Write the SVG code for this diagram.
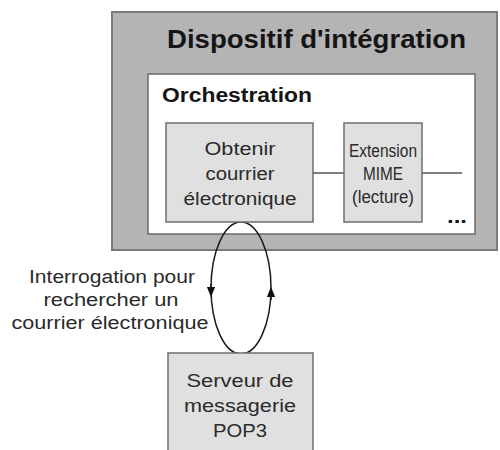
<svg xmlns="http://www.w3.org/2000/svg" width="500" height="450" viewBox="0 0 500 450">
<defs>
<style>
text{font-family:"Liberation Sans",Arial,sans-serif;fill:#2a2a2a}
.b{font-weight:bold;fill:#151515}
.box{fill:#e0e0e0;stroke:#6e6e6e;stroke-width:1.5}
.t{font-size:18px;text-anchor:middle}
.link{stroke:#555;stroke-width:1.5;fill:none}
</style>
<marker id="ah" viewBox="0 0 10 10" refX="5" refY="5" markerWidth="7" markerHeight="7" orient="auto">
<path d="M0,1 L10,5 L0,9 Z" fill="#111"/>
</marker>
</defs>
<rect width="500" height="450" fill="#fff"/>
<g id="dispositif">
<rect x="112" y="12" width="385" height="238" fill="#b4b4b4" stroke="#7a7a7a" stroke-width="2"/>
<text class="b" x="167" y="48" font-size="25" textLength="299" lengthAdjust="spacingAndGlyphs">Dispositif d'intégration</text>
</g>
<g id="orchestration">
<rect x="148" y="74" width="327" height="160" fill="#fff" stroke="#6a6a6a" stroke-width="1.5"/>
<text class="b" x="162" y="102" font-size="20" textLength="150" lengthAdjust="spacingAndGlyphs">Orchestration</text>
<text class="b" x="447" y="223" font-size="20" textLength="20" lengthAdjust="spacingAndGlyphs">...</text>
</g>
<g id="connectors">
<line class="link" x1="313" y1="173" x2="344" y2="173"/>
<line class="link" x1="422" y1="173" x2="462" y2="173"/>
<ellipse cx="241" cy="288" rx="30" ry="66" fill="none" stroke="#1a1a1a" stroke-width="1.5"/>
<path d="M211,284 L211,292" stroke="#1a1a1a" stroke-width="1.5" fill="none" marker-end="url(#ah)"/>
<path d="M271,300 L271,292" stroke="#1a1a1a" stroke-width="1.5" fill="none" marker-end="url(#ah)"/>
</g>
<g id="obtenir">
<rect class="box" x="166" y="123" width="147" height="99"/>
<text class="t" x="240" y="155" textLength="71" lengthAdjust="spacingAndGlyphs">Obtenir</text>
<text class="t" x="240" y="180" textLength="69" lengthAdjust="spacingAndGlyphs">courrier</text>
<text class="t" x="240" y="205" textLength="113" lengthAdjust="spacingAndGlyphs">électronique</text>
</g>
<g id="extension">
<rect class="box" x="344" y="123" width="78" height="99"/>
<text class="t" x="383" y="157" textLength="68" lengthAdjust="spacingAndGlyphs">Extension</text>
<text class="t" x="383" y="180" textLength="40" lengthAdjust="spacingAndGlyphs">MIME</text>
<text class="t" x="383" y="203" textLength="62" lengthAdjust="spacingAndGlyphs">(lecture)</text>
</g>
<g id="label">
<text class="t" x="112" y="283" textLength="166" lengthAdjust="spacingAndGlyphs">Interrogation pour</text>
<text class="t" x="111" y="306" textLength="135" lengthAdjust="spacingAndGlyphs">rechercher un</text>
<text class="t" x="110" y="329" textLength="197" lengthAdjust="spacingAndGlyphs">courrier électronique</text>
</g>
<g id="serveur">
<rect class="box" x="168" y="353" width="145" height="110"/>
<text class="t" x="240" y="387" textLength="107" lengthAdjust="spacingAndGlyphs">Serveur de</text>
<text class="t" x="240" y="412" textLength="112" lengthAdjust="spacingAndGlyphs">messagerie</text>
<text class="t" x="240" y="437" textLength="54" lengthAdjust="spacingAndGlyphs">POP3</text>
</g>
</svg>
